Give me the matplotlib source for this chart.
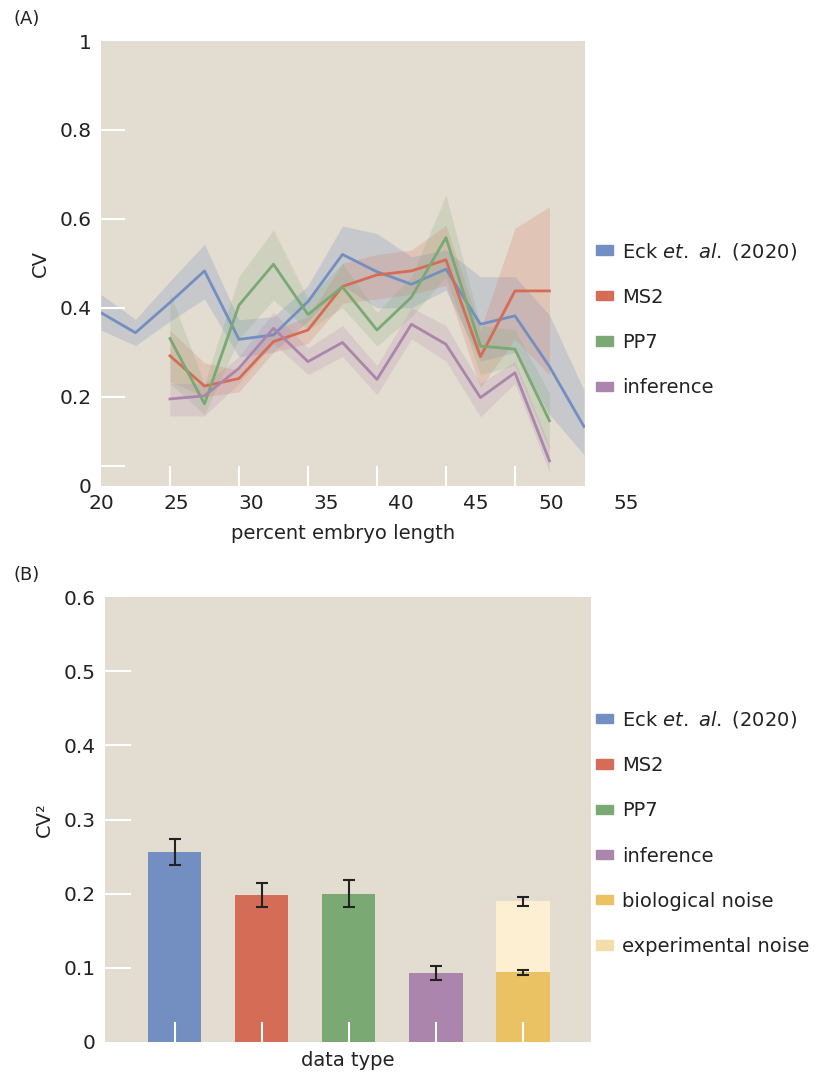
import matplotlib
matplotlib.use("Agg")
import matplotlib.pyplot as plt
from matplotlib.patches import Patch
import numpy as np

plt.rcParams['font.family'] = ['DejaVu Sans']
plt.rcParams['mathtext.fontset'] = 'dejavusans'

# colours
bg = '#E3DCD0'
blue, red, green, purple = '#738FC1', '#D56C55', '#7AA974', '#AB85AC'
yellow, cream, cream_leg = '#EAC264', '#FDEFD2', '#F3DDA8'
ink = '#222222'

# ---- panel A data ----
x_pos = [20.0, 22.3, 24.6, 26.9, 29.2, 31.5, 33.8, 36.1, 38.4, 40.7, 43.0, 45.3, 47.6, 49.9, 52.2]
eck_cv = [0.389, 0.344, 0.412, 0.483, 0.329, 0.339, 0.414, 0.520, 0.481, 0.453, 0.487, 0.363, 0.382, 0.268, 0.133]
eck_lo = [0.350, 0.315, 0.370, 0.420, 0.290, 0.300, 0.370, 0.450, 0.400, 0.400, 0.440, 0.280, 0.300, 0.160, 0.070]
eck_hi = [0.430, 0.374, 0.460, 0.543, 0.373, 0.380, 0.450, 0.584, 0.567, 0.515, 0.530, 0.470, 0.470, 0.384, 0.215]

# MS2 / PP7 / inference cover x_pos[2:14]
ms2_cv = [0.292, 0.224, 0.241, 0.324, 0.350, 0.448, 0.474, 0.483, 0.508, 0.290, 0.438, 0.438]
ms2_lo = [0.234, 0.200, 0.211, 0.300, 0.320, 0.410, 0.420, 0.430, 0.450, 0.220, 0.330, 0.249]
ms2_hi = [0.350, 0.276, 0.260, 0.350, 0.380, 0.500, 0.520, 0.530, 0.586, 0.350, 0.579, 0.627]

pp7_cv = [0.331, 0.184, 0.406, 0.498, 0.385, 0.447, 0.350, 0.424, 0.558, 0.314, 0.307, 0.146]
pp7_lo = [0.230, 0.160, 0.330, 0.418, 0.350, 0.400, 0.314, 0.380, 0.470, 0.250, 0.270, 0.080]
pp7_hi = [0.433, 0.230, 0.470, 0.575, 0.420, 0.500, 0.390, 0.470, 0.654, 0.360, 0.350, 0.208]

inf_cv = [0.195, 0.202, 0.264, 0.354, 0.279, 0.322, 0.239, 0.363, 0.318, 0.198, 0.254, 0.056]
inf_lo = [0.157, 0.157, 0.230, 0.320, 0.250, 0.290, 0.205, 0.330, 0.280, 0.155, 0.230, 0.030]
inf_hi = [0.230, 0.230, 0.290, 0.390, 0.310, 0.360, 0.270, 0.400, 0.360, 0.230, 0.280, 0.090]

x_labels = [20, 25, 30, 35, 40, 45, 50, 55]

# ---- panel B data ----
bar_names = ['Eck', 'MS2', 'PP7', 'inference']
cv2 = [0.256, 0.198, 0.200, 0.093]
cv2_err = [0.018, 0.016, 0.018, 0.009]
bio_noise, bio_err = 0.094, 0.003
exp_noise, total_err = 0.096, 0.006

labels = ['Eck $\\it{et.}$ $\\it{al.}$ (2020)', 'MS2', 'PP7', 'inference',
          'biological noise', 'experimental noise']

fig = plt.figure(figsize=(8.23, 10.74), dpi=100)
axA = fig.add_axes([0.1227, 0.5478, 0.5881, 0.4140])
axB = fig.add_axes([0.1276, 0.0298, 0.5905, 0.4143])

for ax in (axA, axB):
    ax.set_facecolor(bg)
    ax.set_axisbelow(False)
    ax.yaxis.remove_overlapping_locs = False
    ax.xaxis.remove_overlapping_locs = False
    for s in ax.spines.values():
        s.set_visible(False)
    ax.tick_params(which='major', length=0, labelsize=14.5, colors=ink, pad=7)
    ax.tick_params(which='minor', direction='in', length=14.4, width=1.5, color='white')

# panel A
xs = np.array(x_pos)
axA.fill_between(xs, eck_lo, eck_hi, color=blue, alpha=0.25, lw=0)
axA.plot(xs, eck_cv, color=blue, lw=2)
for cv, lo, hi, c in [(ms2_cv, ms2_lo, ms2_hi, red), (pp7_cv, pp7_lo, pp7_hi, green),
                      (inf_cv, inf_lo, inf_hi, purple)]:
    axA.fill_between(xs[2:14], lo, hi, color=c, alpha=0.2, lw=0)
    axA.plot(xs[2:14], cv, color=c, lw=2)

axA.set_xlim(20, 52.27)
axA.set_ylim(0, 1)
axA.set_yticks([0, 0.2, 0.4, 0.6, 0.8, 1])
axA.set_yticklabels(['0', '0.2', '0.4', '0.6', '0.8', '1'])
axA.set_yticks([0.045, 0.2, 0.4, 0.6, 0.8], minor=True)
axA.tick_params(axis='y', which='minor', length=17.3)
axA.set_xticks([])
axA.set_xticks(xs[2:13:2], minor=True)
for v in x_labels:
    axA.annotate(str(v), xy=(v, 0), xycoords=('data', 'axes fraction'),
                 xytext=(0, -6), textcoords='offset points', ha='center', va='top',
                 fontsize=14.5, color=ink, annotation_clip=False)
axA.set_xlabel('percent embryo length', fontsize=14, labelpad=24, color=ink)
axA.set_ylabel('CV', fontsize=14, labelpad=7, color=ink)
fig.text(0.017, 0.982, '(A)', fontsize=13, color=ink, va='center')

handles = [Patch(color=c) for c in (blue, red, green, purple, yellow, cream_leg)]
leg_kw = dict(loc='center left', frameon=False, fontsize=14, handlelength=0.9,
              handleheight=0.36, labelspacing=1.35, handletextpad=0.46,
              borderaxespad=0, labelcolor=ink)
axA.legend(handles[:4], labels[:4], bbox_to_anchor=(1.0066, 0.375), **leg_kw)

# panel B
pos = np.arange(5)
axB.bar(pos[:4], cv2, width=0.61, color=[blue, red, green, purple], zorder=2)
axB.errorbar(pos[:4], cv2, yerr=cv2_err, fmt='none', ecolor=ink, elinewidth=1.5,
             capsize=4, capthick=1.5, zorder=3)
axB.bar(pos[4], bio_noise, width=0.61, color=yellow, zorder=2)
axB.bar(pos[4], exp_noise, bottom=bio_noise, width=0.61, color=cream, zorder=2)
axB.errorbar([pos[4], pos[4]], [bio_noise, bio_noise + exp_noise], yerr=[bio_err, total_err],
             fmt='none', ecolor=ink, elinewidth=1.5, capsize=4, capthick=1.5, zorder=3)
axB.set_xlim(-0.8, 4.78)
axB.set_ylim(0, 0.6)
axB.set_yticks([0, 0.1, 0.2, 0.3, 0.4, 0.5, 0.6])
axB.set_yticklabels(['0', '0.1', '0.2', '0.3', '0.4', '0.5', '0.6'])
axB.set_yticks([0.1, 0.2, 0.3, 0.4, 0.5], minor=True)
axB.tick_params(axis='y', which='minor', length=18.7)
axB.set_xticks([])
axB.set_xticks(pos, minor=True)
axB.set_xlabel('data type', fontsize=14, labelpad=3, color=ink)
axB.set_ylabel('CV²', fontsize=14, labelpad=7, color=ink)
fig.text(0.017, 0.465, '(B)', fontsize=13, color=ink, va='center')
axB.legend(handles, labels, bbox_to_anchor=(0.994, 0.471), **leg_kw)

fig.savefig('out.png', dpi=100)
